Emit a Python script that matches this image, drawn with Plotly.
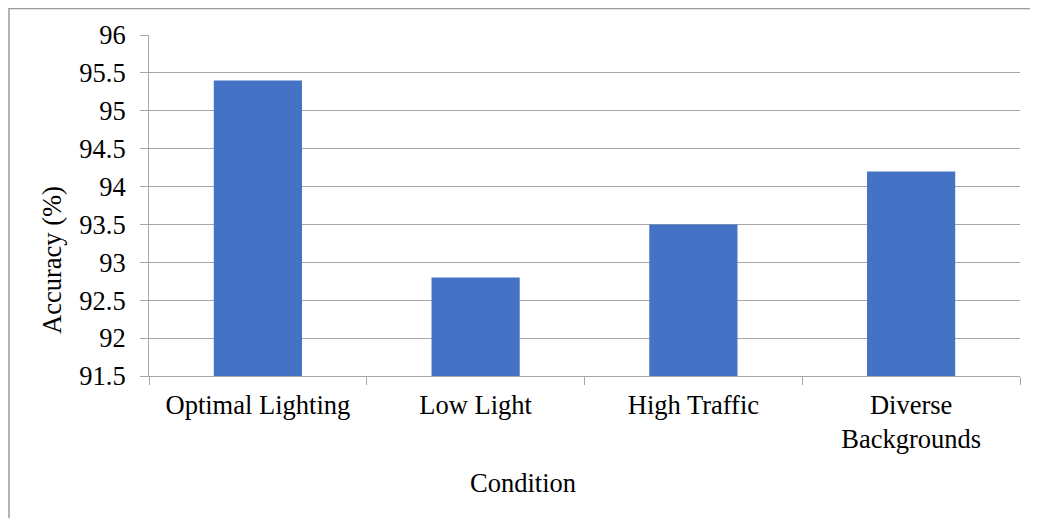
import plotly.graph_objects as go

categories = ["Optimal Lighting", "Low Light", "High Traffic", "Diverse<br>Backgrounds"]
accuracy = [95.4, 92.8, 93.5, 94.2]
y_ticks = [91.5, 92, 92.5, 93, 93.5, 94, 94.5, 95, 95.5, 96]
y_tick_labels = ["91.5", "92", "92.5", "93", "93.5", "94", "94.5", "95", "95.5", "96"]
x_title = "Condition"
y_title = "Accuracy (%)"

FONT = "Liberation Serif"
FS = 26.5
GRID = "#A6A6A6"

fig = go.Figure(go.Bar(x=categories, y=accuracy, marker=dict(color="#4472C4", line=dict(width=0))))

# page has 8px body margin; figure coordinates = page - 8
L, R, T, B = 141, 26, 27, 150
W, H = 1038, 518
pw, ph = W - L - R, H - T - B

fig.update_layout(
    width=W, height=H,
    margin=dict(l=L, r=R, t=T, b=B, autoexpand=False),
    plot_bgcolor="white", paper_bgcolor="white",
    bargap=0.595,
    font=dict(family=FONT, size=FS, color="black"),
    showlegend=False,
    xaxis=dict(
        type="category",
        automargin=False,
        tickson="boundaries",
        ticks="outside", ticklen=8, tickcolor=GRID, tickwidth=1,
        showline=True, linecolor=GRID, linewidth=1,
        showgrid=False,
        tickfont=dict(family=FONT, size=FS),
        ticklabelstandoff=5,
    ),
    yaxis=dict(
        automargin=False,
        range=[91.5, 96],
        tickvals=y_ticks, ticktext=y_tick_labels,
        ticks="outside", ticklen=8, tickcolor=GRID, tickwidth=1,
        showline=True, linecolor=GRID, linewidth=1,
        showgrid=True, gridcolor=GRID, gridwidth=1,
        zeroline=False,
        tickfont=dict(family=FONT, size=FS),
        ticklabelstandoff=9,
    ),
)

fig.add_annotation(text=y_title, xref="paper", yref="paper",
                   x=(44 - L) / pw, y=(H - B - 252) / ph, textangle=-90,
                   showarrow=False, xanchor="center", yanchor="middle",
                   font=dict(family=FONT, size=FS, color="black"))
fig.add_annotation(text=x_title, xref="paper", yref="paper",
                   x=(515 - L) / pw, y=(H - B - 475) / ph,
                   showarrow=False, xanchor="center", yanchor="middle",
                   font=dict(family=FONT, size=FS, color="black"))

# outer chart border (top and left visible, extends past image on right/bottom)
fig.add_shape(type="rect", xref="paper", yref="paper",
              x0=(1 - L) / pw, x1=(W + 20 - L) / pw,
              y0=-(B + 20) / ph, y1=(H - B - 0.5) / ph,
              line=dict(color="#9A9A9A", width=1.5), layer="below")

fig.write_html("out.html")
